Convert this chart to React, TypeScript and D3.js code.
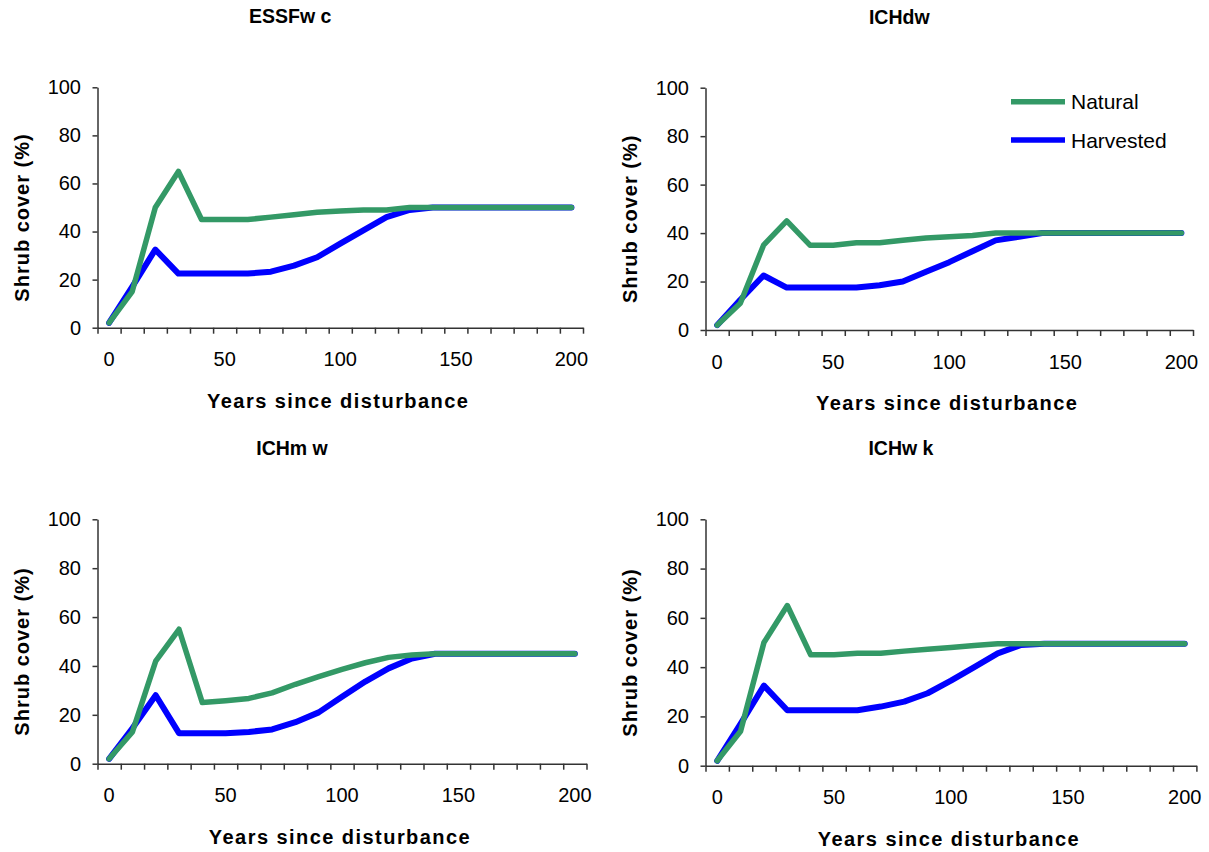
import React, { useEffect, useRef } from "react";
import * as d3 from "d3";

// years since disturbance (category axis, one point every 10 years)
const years = [0, 10, 20, 30, 40, 50, 60, 70, 80, 90, 100, 110, 120, 130, 140, 150, 160, 170, 180, 190, 200];

const panelNames = ["ESSFw c", "ICHdw", "ICHm w", "ICHw k"];

const naturalESSFwc = [2, 15, 50, 65, 45, 45, 45, 46, 47, 48, 48.5, 49, 49, 50, 50, 50, 50, 50, 50, 50, 50];
const harvestedESSFwc = [2, 17, 32.5, 22.5, 22.5, 22.5, 22.5, 23.3, 25.8, 29.3, 35, 40.5, 46, 49, 50, 50, 50, 50, 50, 50, 50];

const naturalICHdw = [2, 11, 35, 45, 35, 35, 36, 36, 37, 38, 38.5, 39, 40, 40, 40, 40, 40, 40, 40, 40, 40];
const harvestedICHdw = [2, 12.5, 22.5, 17.5, 17.5, 17.5, 17.5, 18.5, 20, 24, 28, 32.5, 37, 38.5, 40, 40, 40, 40, 40, 40, 40];

const naturalICHmw = [2, 13, 42, 55, 25, 25.8, 26.7, 29, 32.5, 35.6, 38.6, 41.3, 43.5, 44.5, 45, 45, 45, 45, 45, 45, 45];
const harvestedICHmw = [2, 14.5, 28, 12.5, 12.5, 12.5, 13, 14, 17, 21, 27.4, 33.6, 39, 43, 45, 45, 45, 45, 45, 45, 45];

const naturalICHwk = [2, 14, 50, 65, 45, 45, 45.6, 45.6, 46.5, 47.3, 48, 48.8, 49.5, 49.5, 49.5, 49.5, 49.5, 49.5, 49.5, 49.5, 49.5];
const harvestedICHwk = [2, 17, 32.5, 22.5, 22.5, 22.5, 22.5, 24, 26, 29.4, 34.5, 40, 45.6, 49, 49.5, 49.5, 49.5, 49.5, 49.5, 49.5, 49.5];

const xTickLabels = [0, 50, 100, 150, 200];
const yTickLabels = [0, 20, 40, 60, 80, 100];

const seriesNames = ["Natural", "Harvested"];
const seriesColors = ["#339966", "#0000ff"];

const WIDTH = 1209;
const HEIGHT = 852;
const FONT = "'Liberation Sans', Arial, sans-serif";

// plot areas of the four panels
const boxes = [
  { left: 97.5, right: 583, top: 87.3, bottom: 327.7 },
  { left: 705.5, right: 1193, top: 87.7, bottom: 330 },
  { left: 97.5, right: 586.5, top: 519.3, bottom: 763.7 },
  { left: 705.5, right: 1196.4, top: 519.3, bottom: 765.7 },
];

const panels = [
  { name: panelNames[0], natural: naturalESSFwc, harvested: harvestedESSFwc, box: boxes[0], legend: false },
  { name: panelNames[1], natural: naturalICHdw, harvested: harvestedICHdw, box: boxes[1], legend: true },
  { name: panelNames[2], natural: naturalICHmw, harvested: harvestedICHmw, box: boxes[2], legend: false },
  { name: panelNames[3], natural: naturalICHwk, harvested: harvestedICHwk, box: boxes[3], legend: false },
];

export default function App() {
  const ref = useRef<SVGSVGElement>(null);

  useEffect(() => {
    const svg = d3.select(ref.current);
    svg.selectAll("*").remove();

    svg.append("rect").attr("width", WIDTH).attr("height", HEIGHT).attr("fill", "#fff");

    panels.forEach((p) => {
      const { left, right, top, bottom } = p.box;

      const x = d3.scaleLinear().domain([-5, 205]).range([left, right]);
      const y = d3.scaleLinear().domain([0, 100]).range([bottom, top]);

      const g = svg.append("g");

      // Y axis
      const yAxis = g
        .append("g")
        .attr("transform", `translate(${left},0)`)
        .call(d3.axisLeft(y).tickValues(yTickLabels).tickSize(5).tickSizeOuter(0).tickPadding(11.5));
      yAxis.selectAll("path, line").attr("stroke", "#333").attr("stroke-width", 1.5);
      yAxis
        .selectAll("text")
        .attr("font-family", FONT)
        .attr("font-size", "20px")
        .attr("fill", "#000");

      // X axis (tick marks between categories)
      const xAxis = g
        .append("g")
        .attr("transform", `translate(0,${bottom})`)
        .call(
          d3
            .axisBottom(x)
            .tickValues(d3.range(-5, 206, 10))
            .tickSize(6)
            .tickSizeOuter(0)
            .tickFormat(() => "")
        );
      xAxis.selectAll("path, line").attr("stroke", "#333").attr("stroke-width", 1.5);

      g.selectAll(".xlab")
        .data(xTickLabels)
        .enter()
        .append("text")
        .attr("x", (d) => x(d))
        .attr("y", bottom + 38.5)
        .attr("text-anchor", "middle")
        .attr("font-family", FONT)
        .attr("font-size", "20px")
        .text((d) => d);

      // Lines
      const line = d3
        .line<number>()
        .x((_, i) => x(years[i]))
        .y((d) => y(d));

      [p.harvested, p.natural].forEach((vals, k) => {
        g.append("path")
          .datum(vals)
          .attr("d", line)
          .attr("fill", "none")
          .attr("stroke", k === 0 ? seriesColors[1] : seriesColors[0])
          .attr("stroke-width", k === 0 ? 6 : 5.5)
          .attr("stroke-linejoin", "round")
          .attr("stroke-linecap", "round");
      });

      // Title
      g.append("text")
        .attr("x", (left + right) / 2 - 50)
        .attr("y", top - 64)
        .attr("text-anchor", "middle")
        .attr("font-family", FONT)
        .attr("font-size", "19.5px")
        .attr("font-weight", "bold")
        .text(p.name);

      // Axis labels
      g.append("text")
        .attr("x", (left + right) / 2 - 2)
        .attr("y", bottom + 80)
        .attr("text-anchor", "middle")
        .attr("font-family", FONT)
        .attr("font-size", "20px")
        .attr("font-weight", "bold")
        .attr("letter-spacing", "1.45px")
        .text("Years since disturbance");

      g.append("text")
        .attr("transform", `translate(${left - 69},${(top + bottom) / 2 + 10}) rotate(-90)`)
        .attr("text-anchor", "middle")
        .attr("font-family", FONT)
        .attr("font-size", "20px")
        .attr("font-weight", "bold")
        .attr("letter-spacing", "1px")
        .text("Shrub cover (%)");

      // Legend
      if (p.legend) {
        seriesNames.forEach((name, i) => {
          const ly = 101.7 + i * 38.3;
          g.append("line")
            .attr("x1", 1011)
            .attr("x2", 1065)
            .attr("y1", ly)
            .attr("y2", ly)
            .attr("stroke", seriesColors[i])
            .attr("stroke-width", 5.5);
          g.append("text")
            .attr("x", 1071)
            .attr("y", ly + 7.5)
            .attr("font-family", FONT)
            .attr("font-size", "21px")
            .text(name);
        });
      }
    });
  }, []);

  return (
    <svg
      ref={ref}
      width={WIDTH}
      height={HEIGHT}
      style={{ position: "absolute", left: 0, top: 0, display: "block" }}
    />
  );
}
